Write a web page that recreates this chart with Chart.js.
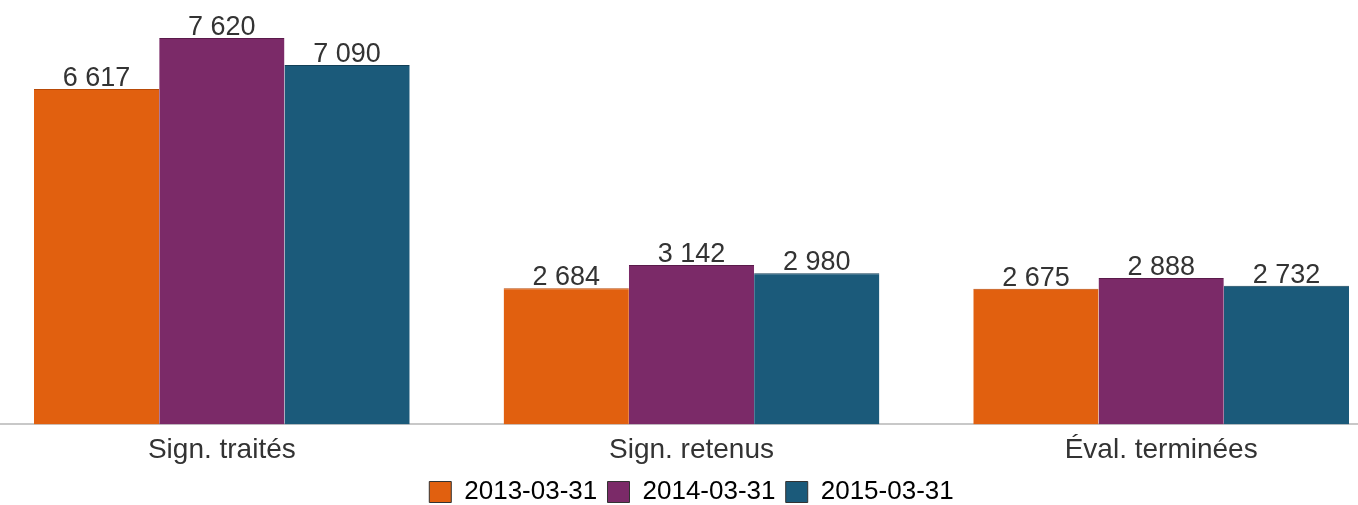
<!DOCTYPE html>
<html>
<head>
<meta charset="utf-8">
<script src="https://cdn.jsdelivr.net/npm/chart.js@4.4.0/dist/chart.umd.min.js"></script>
<style>
  html, body { margin: 0; padding: 0; background: #fff; overflow: hidden; }
  #wrap { position: absolute; left: -13px; top: 0; width: 1409px; height: 505px; }
</style>
</head>
<body>
<div id="wrap"><canvas id="chart"></canvas></div>
<script>
const categories = ["Sign. traités", "Sign. retenus", "Éval. terminées"];
const seriesNames = ["2013-03-31", "2014-03-31", "2015-03-31"];
const values2013 = [6617, 2684, 2675];
const values2014 = [7620, 3142, 2888];
const values2015 = [7090, 2980, 2732];

const fills = ["#e1600f", "#7b2a68", "#1b5a7a"];
const edges = ["#b84a08", "#5a1a4a", "#123f57"];
const FONT = "'Liberation Sans', Arial, sans-serif";

const fmt = (v) => String(v).replace(/\B(?=(\d{3})+(?!\d))/g, " ");

// value labels above each bar
const barLabels = {
  id: "barLabels",
  afterDatasetsDraw(chart) {
    const ctx = chart.ctx;
    ctx.save();
    ctx.font = "27px " + FONT;
    ctx.fillStyle = "#333";
    ctx.textAlign = "center";
    ctx.textBaseline = "alphabetic";
    chart.data.datasets.forEach((ds, i) => {
      chart.getDatasetMeta(i).data.forEach((bar, j) => {
        ctx.fillText(fmt(ds.data[j]), bar.x, bar.y - 3);
      });
    });
    ctx.restore();
  }
};

const ctx = document.getElementById("chart").getContext("2d");
new Chart(ctx, {
  type: "bar",
  data: {
    labels: categories,
    datasets: [values2013, values2014, values2015].map((d, i) => ({
      label: seriesNames[i],
      data: d,
      backgroundColor: fills[i],
      borderColor: edges[i],
      borderWidth: { top: 1, left: 0, right: 0, bottom: 0 },
      categoryPercentage: 0.8,
      barPercentage: 1.0
    }))
  },
  options: {
    responsive: true,
    maintainAspectRatio: false,
    animation: false,
    layout: { padding: { top: 0, bottom: -10, left: 0, right: 0 } },
    scales: {
      x: {
        grid: { display: false, drawTicks: false },
        border: { display: true, color: "#c8c8c8", width: 2 },
        ticks: {
          color: "#333",
          padding: 9,
          font: { family: FONT, size: 28 }
        }
      },
      y: {
        display: false,
        min: 0,
        max: 8370
      }
    },
    plugins: {
      legend: {
        position: "bottom",
        labels: {
          color: "#333",
          boxWidth: 22,
          boxHeight: 21,
          padding: 3,
          font: { family: FONT, size: 26 },
          // trailing space widens the gap between items without growing the legend's height
          generateLabels: (chart) => chart.data.datasets.map((ds, i) => ({
            text: i < chart.data.datasets.length - 1 ? ds.label + " " : ds.label,
            fillStyle: fills[i],
            strokeStyle: "#333",
            lineWidth: 1,
            datasetIndex: i
          }))
        }
      },
      tooltip: { enabled: false }
    }
  },
  plugins: [barLabels]
});
</script>
</body>
</html>
